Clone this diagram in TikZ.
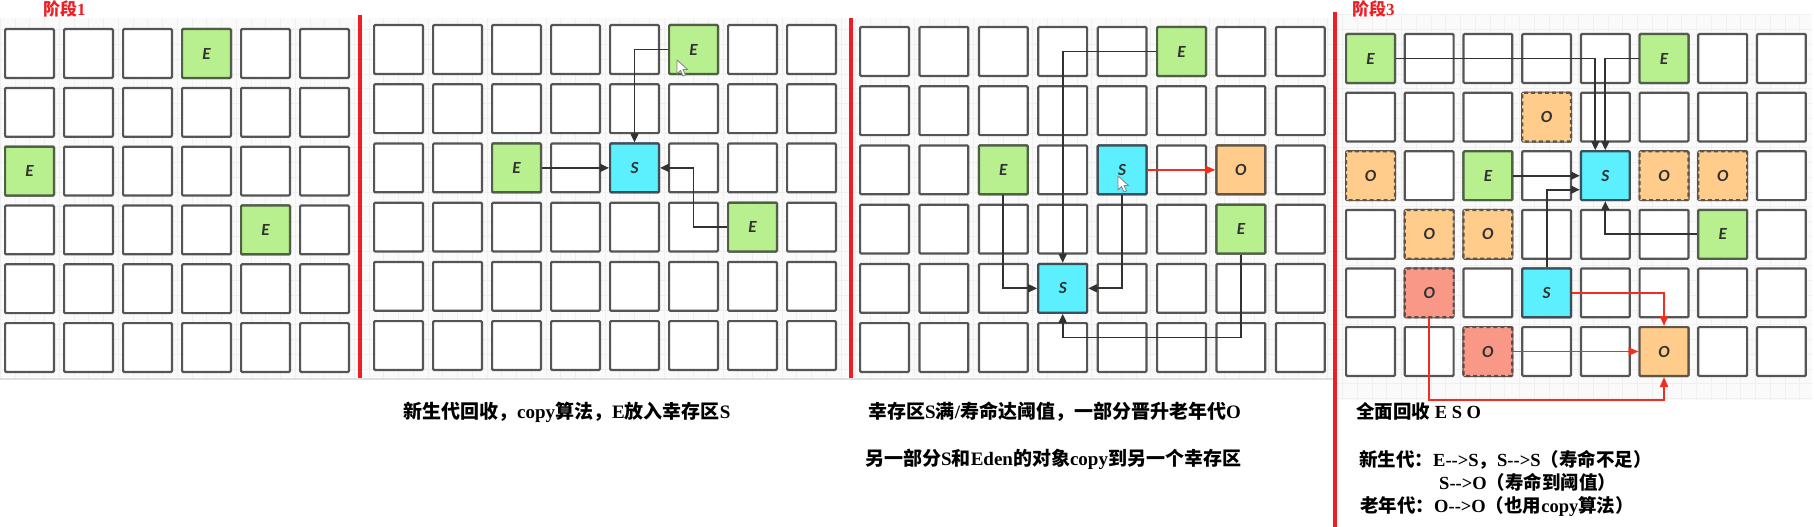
\documentclass[tikz,border=0pt]{standalone}
\usepackage{fontspec}
\setmainfont{Liberation Serif}
\newfontfamily\cjkf{Noto Sans CJK SC}
\newfontfamily\cellf{Carlito}
\usetikzlibrary{arrows.meta,calc}
\newcommand{\zh}[1]{{\cjkf #1}}
\definecolor{egreen}{RGB}{184,240,144}
\definecolor{scyan}{RGB}{92,240,255}
\definecolor{oorange}{RGB}{255,204,140}
\definecolor{osalmon}{RGB}{250,152,136}
\definecolor{cellline}{RGB}{85,85,85}
\definecolor{arrgray}{RGB}{50,50,50}
\definecolor{redline}{RGB}{238,30,36}
\definecolor{redarrow}{RGB}{242,44,30}
\definecolor{bgc}{RGB}{250,250,250}
\definecolor{gridc}{RGB}{240,240,240}
\tikzset{
  cell/.style={draw=cellline, line width=2.2pt, minimum size=48.8pt, inner sep=0pt, rounded corners=1pt, fill=white,
    font=\cellf\bfseries\itshape\fontsize{17}{17}\selectfont, text={rgb,255:red,50;green,50;blue,50}},
  ecell/.style={cell, fill=egreen, draw={rgb,255:red,80;green,95;blue,70}},
  scell/.style={cell, fill=scyan, draw={rgb,255:red,60;green,80;blue,90}},
  ocell/.style={cell, fill=oorange, draw={rgb,255:red,95;green,85;blue,70}},
  odash/.style={ocell, dash pattern=on 4pt off 3pt},
  rdash/.style={cell, fill=osalmon, draw={rgb,255:red,95;green,75;blue,70}, dash pattern=on 4pt off 3pt},
  arr/.style={draw=arrgray, line width=1.8pt, -{Triangle[length=9pt,width=8pt]}},
  rarr/.style={draw=redarrow, line width=1.8pt, -{Triangle[length=10pt,width=8pt]}},
  sepline/.style={draw=redline, line width=3.5pt},
  captext/.style={inner sep=0pt, anchor=base west, font=\bfseries\fontsize{19}{19}\selectfont},
  captextb/.style={inner sep=0pt, anchor=base west, font=\bfseries\fontsize{18.5}{18.5}\selectfont},
  ttl/.style={inner sep=0pt, anchor=base west, text=redline, font=\bfseries\fontsize{17}{17}\selectfont},
  cursorshape/.style={fill=white, draw=gray, line width=0.8pt, line join=round}
}
\newcommand{\cellgrid}[6]{%
  \foreach \r in {0,...,5} {
    \foreach \c in {0,...,#6} {
      \node[cell] (#1-\r-\c) at ({#2+25.5+\c*#4},{#3+25.5+\r*#5}) {};
    }
  }
}
\begin{document}
\begin{tikzpicture}[x=1pt,y=-1pt]
\useasboundingbox (0,0) rectangle (1814,527);
\fill[white] (0,0) rectangle (1814,527);
% panel backgrounds
\fill[bgc] (0,18) rectangle (1334,378);
\draw[gridc, line width=0.5pt, step=14.75pt] (0,18) grid (1334,378);
\fill[bgc] (1337,14) rectangle (1812,400);
\draw[gridc, line width=0.5pt, step=14.75pt] (1337,14) grid (1812,400);
\draw[gray!25, line width=1.5pt] (0,379) -- (1334,379);
% separators
\draw[sepline] (360,15) -- (360,378);
\draw[sepline] (851,18) -- (851,378);
\draw[sepline] (1335,12) -- (1335,527);
% titles
\node[ttl] (title1) at (43,16) {\zh{阶段}1};
\node[ttl] (title3) at (1352,16) {\zh{阶段}3};
% grids
\cellgrid{p1}{4}{28}{59}{58.8}{5}
\cellgrid{p2}{373}{24}{59}{59.2}{7}
\cellgrid{p3}{859}{26}{59.4}{59.2}{7}
\cellgrid{p4}{1345}{33}{58.7}{58.6}{7}
% ---------- panel 1
\node[ecell] (a1E1) at (p1-0-3) {E};
\node[ecell] (a1E2) at (p1-2-0) {E};
\node[ecell] (a1E3) at (p1-3-4) {E};
% ---------- panel 2
\node[ecell] (b2E1) at (p2-0-5) {E};
\node[ecell] (b2E2) at (p2-2-2) {E};
\node[scell] (b2S) at (p2-2-4) {S};
\node[ecell] (b2E3) at (p2-3-6) {E};
\draw[arr] (b2E1.west) -| (b2S.north);
\draw[arr] (b2E2.east) -- (b2S.west);
\draw[arr] (b2E3.west) -| (p2-2-5.center) -- (b2S.east);
\draw[cursorshape] (677,60) -- (677,74) -- (680.5,70.5) -- (683,76) -- (685.5,75) -- (683,69.5) -- (687.5,69.5) -- cycle;
% ---------- panel 3
\node[ecell] (c3E1) at (p3-0-5) {E};
\node[ecell] (c3E2) at (p3-2-2) {E};
\node[scell] (c3S1) at (p3-2-4) {S};
\node[ocell] (c3O) at (p3-2-6) {O};
\node[ecell] (c3E3) at (p3-3-6) {E};
\node[scell] (c3S2) at (p3-4-3) {S};
\draw[arr] (c3E1.west) -| (c3S2.north);
\draw[arr] (c3E2.south) |- (c3S2.west);
\draw[arr] (c3S1.south) |- (c3S2.east);
\draw[arr] (c3E3.south) |- ($(p3-5-3.center)+(0,-10)$) -- (c3S2.south);
\draw[rarr] (c3S1.east) -- (c3O.west);
\draw[cursorshape] (1118,176) -- (1118,190) -- (1121.5,186.5) -- (1124,192) -- (1126.5,191) -- (1124,185.5) -- (1128.5,185.5) -- cycle;
% ---------- panel 4
\node[ecell] (d4E1) at (p4-0-0) {E};
\node[ecell] (d4E2) at (p4-0-5) {E};
\node[odash] (d4O1) at (p4-1-3) {O};
\node[odash] (d4O2) at (p4-2-0) {O};
\node[ecell] (d4E3) at (p4-2-2) {E};
\node[scell] (d4S) at (p4-2-4) {S};
\node[odash] (d4O6) at (p4-2-5) {O};
\node[odash] (d4O7) at (p4-2-6) {O};
\node[odash] (d4O8) at (p4-3-1) {O};
\node[odash] (d4O9) at (p4-3-2) {O};
\node[ecell] (d4E4) at (p4-3-6) {E};
\node[rdash] (d4O4) at (p4-4-1) {O};
\node[scell] (d4S2) at (p4-4-3) {S};
\node[rdash] (d4O3) at (p4-5-2) {O};
\node[ocell] (d4O5) at (p4-5-5) {O};
\draw[arr] (d4E1.east) -| ($(d4S.north)+(-10,0)$);
\draw[arr] (d4E2.west) -| (d4S.north);
\draw[arr] (d4E3.east) -- (d4S.west);
\draw[arr] (d4S2.north) |- ($(d4S.west)+(0,14)$);
\draw[arr] (d4E4.west) -| (d4S.south);
\draw[rarr] (d4S2.east) -| (d4O5.north);
\draw[rarr] (d4O3.east) -- (d4O5.west);
\draw[rarr] (d4O4.south) |- ($(d4O5.south)+(0,23)$) -- (d4O5.south);
% ---------- captions
\node[captext] (cap2) at (403,418) {\zh{新生代回收，}copy\zh{算法，}E\zh{放入幸存区}S};
\node[captext] (cap3a) at (868,418) {\zh{幸存区}S\zh{满}/\zh{寿命达阈值，一部分晋升老年代}O};
\node[captext] (cap3b) at (865,465) {\zh{另一部分}S\zh{和}Eden\zh{的对象}copy\zh{到另一个幸存区}};
\node[captextb] (cap4a) at (1356,418) {\zh{全面回收} E S O};
\node[captextb] (cap4b) at (1359,466) {\zh{新生代：}E-{}->S\zh{，}S-{}->S\zh{（寿命不足）}};
\node[captextb] (cap4c) at (1439,489) {S-{}->O\zh{（寿命到阈值）}};
\node[captextb] (cap4d) at (1360,512) {\zh{老年代：}O-{}->O\zh{（也用}copy\zh{算法）}};
\end{tikzpicture}
\end{document}
